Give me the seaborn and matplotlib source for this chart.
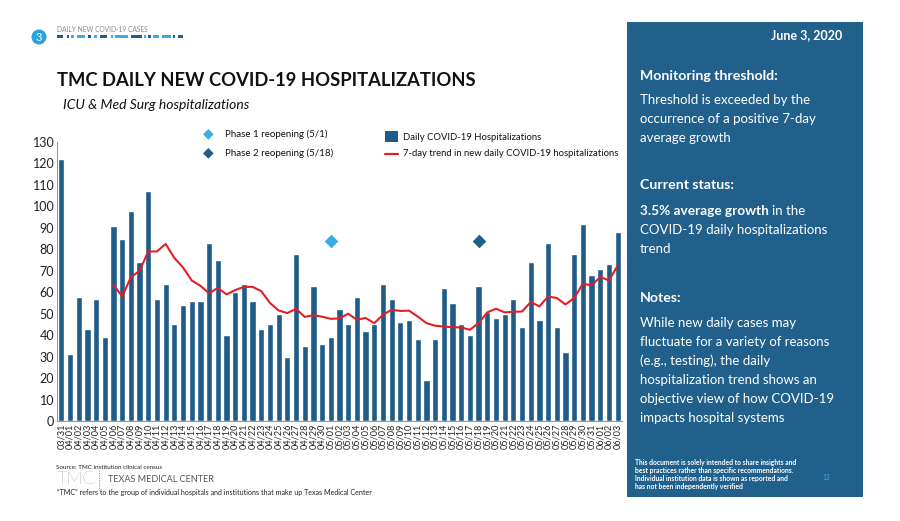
import numpy as np
import pandas as pd
import matplotlib
matplotlib.use("Agg")
import matplotlib.pyplot as plt
from matplotlib.patches import Rectangle, Ellipse
import seaborn as sns

# ---------------- data ----------------
dates = (["03/31"] + [f"04/{d:02d}" for d in range(1, 31)]
         + [f"05/{d:02d}" for d in range(1, 32)] + [f"06/{d:02d}" for d in range(1, 4)])

daily_hosp = [122, 31, 58, 43, 57, 39, 91, 85, 98, 74, 107, 57, 64, 45, 54, 56, 56, 83, 75, 40,
              60, 64, 56, 43, 45, 50, 30, 78, 35, 63, 36,
              39, 52, 45, 58, 42, 45, 64, 57, 46, 47, 38, 19, 38, 62, 55, 45, 40, 63, 51, 48,
              50, 57, 44, 74, 47, 83, 44, 32, 78, 92, 68,
              71, 73, 88]

trend_7day = [np.nan] * 6 + [
    63.5, 58, 67, 70, 79, 79, 82.5, 76, 71.5, 65.5, 63, 59.5, 62, 59, 61, 62.5, 62.5, 60.5,
    55, 51.5, 50.3, 52.3, 48.5, 49.3, 48.6,
    47.6, 47.8, 50, 47.2, 48, 45.6, 49.5, 51.8, 51.3, 51.4, 48.7, 45.6, 44.4, 44, 43.7, 43.6,
    42.5, 45.6, 50.6, 52.3, 50.6, 50.9, 51, 55.4, 53.4, 58, 57.3, 54.3, 57.3, 64, 63.2,
    67.1, 65.5, 72.4]

phase_labels = ["Phase 1 reopening (5/1)", "Phase 2 reopening (5/18)"]
phase_dates = ["05/01", "05/18"]
phase_y = [84, 84]

yticks = list(range(0, 131, 10))

# ---------------- style ----------------
sns.set_theme(style="white")
plt.rcParams["font.family"] = ["Lato", "DejaVu Sans"]

BAR = "#1f5c87"
RED = "#e41e26"
LIGHT = "#3aaee3"
DARK = "#215e87"
PANEL = "#22608c"

W, H = 900, 521
fig = plt.figure(figsize=(W / 100, H / 100), dpi=100)
fig.patch.set_facecolor("white")


def fx(px):
    return px / W


def fy(py):
    return 1 - py / H


def rect(x0, y_top, w, h, c):
    fig.patches.append(Rectangle((fx(x0), fy(y_top + h)), fx(w), h / H, color=c, lw=0,
                                 transform=fig.transFigure, figure=fig))


# main axes  (pixel box: left 57, right 622, top 142, bottom 421)
ax = fig.add_axes([fx(57), fy(421), fx(622 - 57), (421 - 142) / H])

df = pd.DataFrame({"date": dates, "hosp": daily_hosp, "trend": trend_7day})
df["pos"] = np.arange(len(df))

sns.barplot(data=df, x="date", y="hosp", color=BAR, saturation=1, width=0.72, ax=ax)
sns.lineplot(data=df, x="pos", y="trend", color=RED, linewidth=1.5, ax=ax)

pos_map = {d: i for i, d in enumerate(dates)}
ax.scatter([pos_map[phase_dates[0]]], [phase_y[0]], marker="D", s=48, color=LIGHT, zorder=5,
           linewidths=0)
ax.scatter([pos_map[phase_dates[1]]], [phase_y[1]], marker="D", s=48, color=DARK, zorder=5,
           linewidths=0)

ax.set_xlim(-0.5, len(dates) - 0.5)
ax.set_ylim(0, 130)
ax.set_yticks(yticks)
ax.set_yticklabels([str(t) for t in yticks], fontsize=9, color="#222222")
ax.set_xticks(np.arange(len(dates)))
ax.set_xticklabels(dates, rotation=90, fontsize=6.6, color="#222222")
ax.tick_params(axis="both", length=0, pad=2)
ax.set_xlabel("")
ax.set_ylabel("")
for s in ["top", "right"]:
    ax.spines[s].set_visible(False)
for s in ["left", "bottom"]:
    ax.spines[s].set_color("#9a9a9a")
    ax.spines[s].set_linewidth(0.8)

# ---------------- legend (drawn manually) ----------------
fig.text(fx(208), fy(133.5), "\u25C6", color=LIGHT, fontsize=10, ha="center", va="center",
         family=["DejaVu Sans"])
fig.text(fx(208), fy(152.5), "\u25C6", color=DARK, fontsize=10, ha="center", va="center",
         family=["DejaVu Sans"])
fig.text(fx(225), fy(134), phase_labels[0], fontsize=7.0, va="center", color="#111111")
fig.text(fx(225), fy(153), phase_labels[1], fontsize=7.0, va="center", color="#111111")
rect(385, 131, 13, 11, BAR)
fig.text(fx(403), fy(137), "Daily COVID-19 Hospitalizations", fontsize=6.8, va="center",
         color="#111111")
fig.lines.append(plt.Line2D([fx(385), fx(398)], [fy(154), fy(154)], color=RED, lw=1.6,
                            transform=fig.transFigure, figure=fig))
fig.text(fx(403), fy(154), "7-day trend in new daily COVID-19 hospitalizations", fontsize=6.8,
         va="center", color="#111111")

# ---------------- header ----------------
fig.patches.append(Ellipse((fx(39), fy(37)), 15 / W, 15 / H, color="#2aa3dc", lw=0,
                           transform=fig.transFigure, figure=fig))
fig.text(fx(39), fy(37.5), "3", color="white", fontsize=8, ha="center", va="center")
fig.text(fx(57), fy(29), "DAILY NEW COVID-19 CASES", fontsize=4.8, color="#8a8a8a",
         va="center")
segs = [(57, 6, DARK), (66.7, 1.8, DARK), (71, 3, LIGHT), (77, 8, LIGHT), (88, 2.7, DARK),
        (94, 3, LIGHT), (100, 7, DARK), (110.7, 2, LIGHT), (115, 13, LIGHT), (131, 10.7, DARK),
        (144, 2, LIGHT), (148, 2.7, DARK), (153, 6, LIGHT), (162, 8.7, LIGHT), (173, 2, DARK),
        (177.7, 5.3, DARK)]
for x0, w, c in segs:
    rect(x0, 35, w, 3.5, c)

fig.text(fx(57), fy(81), "TMC DAILY NEW COVID-19 HOSPITALIZATIONS", fontsize=13.2,
         fontweight="bold", color="#111111", va="center")
fig.text(fx(63), fy(105), "ICU & Med Surg hospitalizations", fontsize=10, fontstyle="italic",
         color="#111111", va="center")

# ---------------- footer ----------------
fig.text(fx(56), fy(467.5), "Source: TMC institution clinical census", fontsize=4.5,
         color="#222222", va="center")
fig.text(fx(57), fy(478.5), "TMC", fontsize=13, color="#5a5a5a", va="center",
         fontweight="light")
fig.lines.append(plt.Line2D([fx(99), fx(99)], [fy(470), fy(490)], color="#3aaee3", lw=0.8,
                            ls=(0, (1, 1.2)), transform=fig.transFigure, figure=fig))
fig.text(fx(108), fy(479), "TEXAS MEDICAL CENTER", fontsize=6.5, color="#555555",
         va="center")
fig.text(fx(57), fy(492),
         "\u201cTMC\u201d refers to the group of individual hospitals and institutions that make up Texas Medical Center",
         fontsize=5.1, color="#222222", va="center")

# ---------------- right panel ----------------
rect(627, 22, 863 - 627, 497 - 22, PANEL)
fig.text(fx(842), fy(35), "June 3, 2020", fontsize=9, fontweight="bold", color="white",
         ha="right", va="center")

TX = fx(640)
FS = 9.5
FB = 10.2
fig.text(TX, fy(76.5), "Monitoring threshold:", fontsize=FB, fontweight="bold", color="white",
         va="center")
for i, line in enumerate(["Threshold is exceeded by the", "occurrence of a positive 7-day",
                          "average growth"]):
    fig.text(TX, fy(99.5 + 19.3 * i), line, fontsize=FS, color="white", va="center")
fig.text(TX, fy(185), "Current status:", fontsize=FB, fontweight="bold", color="white",
         va="center")
t = fig.text(TX, fy(211), "3.5% average growth", fontsize=FS + 0.3, fontweight="bold",
             color="white", va="center")
fig.canvas.draw()
bb = t.get_window_extent()
fig.text(bb.x1 / W + fx(3), fy(211), "in the", fontsize=FS, color="white", va="center")
fig.text(TX, fy(230), "COVID-19 daily hospitalizations", fontsize=FS, color="white", va="center")
fig.text(TX, fy(249), "trend", fontsize=FS, color="white", va="center")
fig.text(TX, fy(298), "Notes:", fontsize=FB, fontweight="bold", color="white", va="center")
notes = ["While new daily cases may", "fluctuate for a variety of reasons",
         "(e.g., testing), the daily", "hospitalization trend shows an",
         "objective view of how COVID-19", "impacts hospital systems"]
for i, line in enumerate(notes):
    fig.text(TX, fy(323 + 19 * i), line, fontsize=FS, color="white", va="center")

disc = ["This document is solely intended to share insights and",
        "best practices rather than specific recommendations.",
        "Individual institution data is shown as reported and",
        "has not been independently verified"]
for i, line in enumerate(disc):
    fig.text(fx(635), fy(463 + 8 * i), line, fontsize=4.9, fontweight="bold", color="white",
             va="center")
fig.text(fx(822), fy(477), "13", fontsize=4.8, color="#3aaee3", va="center")

fig.savefig("out.png", dpi=100, facecolor="white")
